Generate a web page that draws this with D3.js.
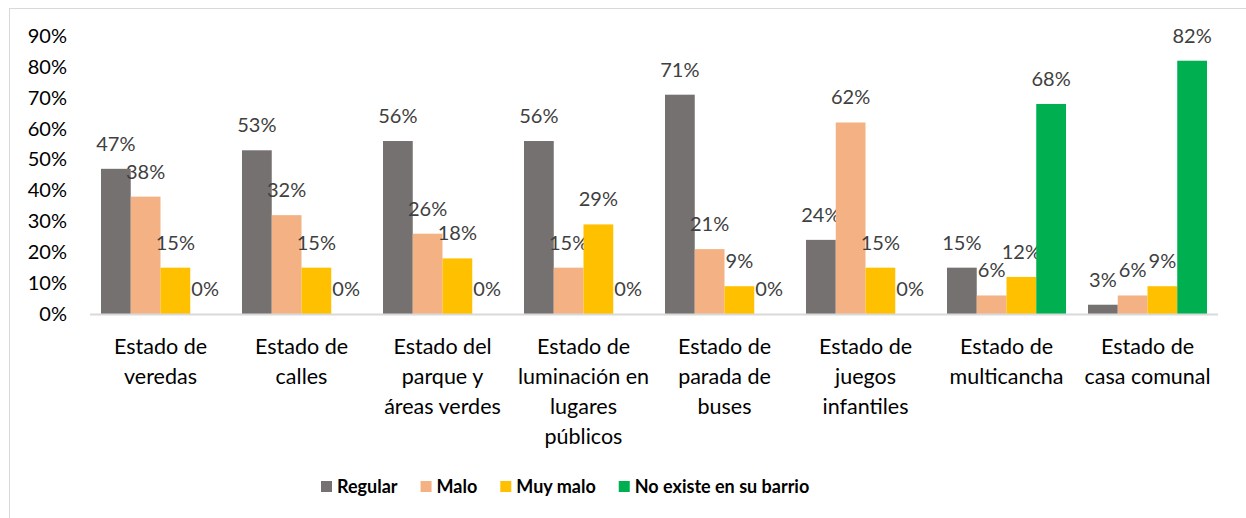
<!DOCTYPE html>
<html>
<head>
<meta charset="utf-8">
<script src="https://cdn.jsdelivr.net/npm/d3@7"></script>
<style>
  body { margin: 0; background: #fff; }
  svg { display: block; font-family: Lato, "Open Sans", sans-serif; }
</style>
</head>
<body>
<div id="chart"></div>
<script>
const categories = [
  ['Estado de', 'veredas'],
  ['Estado de', 'calles'],
  ['Estado del', 'parque y', 'áreas verdes'],
  ['Estado de', 'luminación en', 'lugares', 'públicos'],
  ['Estado de', 'parada de', 'buses'],
  ['Estado de', 'juegos', 'infantiles'],
  ['Estado de', 'multicancha'],
  ['Estado de', 'casa comunal']
];
const seriesNames = ['Regular', 'Malo', 'Muy malo', 'No existe en su barrio'];
const seriesColors = ['#767171', '#F4B183', '#FFC000', '#00B050'];

const regular  = [47, 53, 56, 56, 71, 24, 15, 3];
const malo     = [38, 32, 26, 15, 21, 62, 6, 6];
const muyMalo  = [15, 15, 18, 29, 9, 15, 12, 9];
const noExiste = [0, 0, 0, 0, 0, 0, 68, 82];
const yTicks = [0, 10, 20, 30, 40, 50, 60, 70, 80, 90];

const series = [regular, malo, muyMalo, noExiste];

const width = 1246, height = 518;
const margin = {top: 36, right: 28, bottom: 204, left: 90};
const plotW = width - margin.left - margin.right;
const plotH = height - margin.top - margin.bottom;

const svg = d3.select('#chart').append('svg')
  .attr('width', width)
  .attr('height', height);

// chart frame
svg.append('rect')
  .attr('x', 9.5).attr('y', 8.5)
  .attr('width', 1260).attr('height', 520)
  .attr('fill', 'none')
  .attr('stroke', '#d9d9d9');

const x0 = d3.scaleBand()
  .domain(d3.range(categories.length))
  .range([0, plotW])
  .paddingInner(0.156)
  .paddingOuter(0.078);

const x1 = d3.scaleBand()
  .domain(d3.range(series.length))
  .range([0, x0.bandwidth()]);

const y = d3.scaleLinear()
  .domain([0, 90])
  .range([plotH, 0]);

const g = svg.append('g')
  .attr('transform', 'translate(' + margin.left + ',' + margin.top + ')');

// y axis labels
g.append('g')
  .call(d3.axisLeft(y).tickValues(yTicks).tickFormat(d => d + '%').tickSize(0).tickPadding(23))
  .call(s => s.select('.domain').remove())
  .selectAll('text')
    .attr('font-size', 20)
    .attr('font-family', 'Lato, sans-serif')
    .attr('fill', '#000');

// bars
const groups = g.selectAll('.grp')
  .data(categories)
  .enter().append('g')
    .attr('class', 'grp')
    .attr('transform', (d, i) => 'translate(' + x0(i) + ',0)');

groups.each(function(c, ci) {
  const grp = d3.select(this);
  series.forEach((s, si) => {
    if (s[ci] > 0) {
      grp.append('rect')
        .attr('x', x1(si))
        .attr('y', y(s[ci]))
        .attr('width', x1.bandwidth())
        .attr('height', plotH - y(s[ci]))
        .attr('fill', seriesColors[si]);
    }
    grp.append('text')
      .attr('x', x1(si) + x1.bandwidth() / 2)
      .attr('y', y(s[ci]) - 18)
      .attr('text-anchor', 'middle')
      .attr('font-size', 20)
      .attr('fill', '#404040')
      .text(s[ci] + '%');
  });
});

// x axis line
g.append('line')
  .attr('x1', 0).attr('x2', plotW)
  .attr('y1', plotH + 0.5).attr('y2', plotH + 0.5)
  .attr('stroke', '#d9d9d9')
  .attr('stroke-width', 2);

// category labels
groups.append('text')
  .attr('x', x0.bandwidth() / 2)
  .attr('y', plotH + 40)
  .attr('text-anchor', 'middle')
  .attr('font-size', 21.5)
  .attr('fill', '#000')
  .selectAll('tspan')
  .data(d => d)
  .enter().append('tspan')
    .attr('x', x0.bandwidth() / 2)
    .attr('dy', (d, i) => i === 0 ? 0 : 30)
    .text(d => d);

// legend
const legend = svg.append('g').attr('transform', 'translate(321,487)');
let lx = 0;
seriesNames.forEach((name, i) => {
  legend.append('rect')
    .attr('x', lx).attr('y', -6)
    .attr('width', 11).attr('height', 11)
    .attr('fill', seriesColors[i]);
  const t = legend.append('text')
    .attr('x', lx + 16)
    .attr('y', 6)
    .attr('font-size', 18)
    .attr('font-weight', 'bold')
    .attr('fill', '#000')
    .text(name);
  lx += 16 + t.node().getComputedTextLength() + 23;
});
</script>
</body>
</html>
